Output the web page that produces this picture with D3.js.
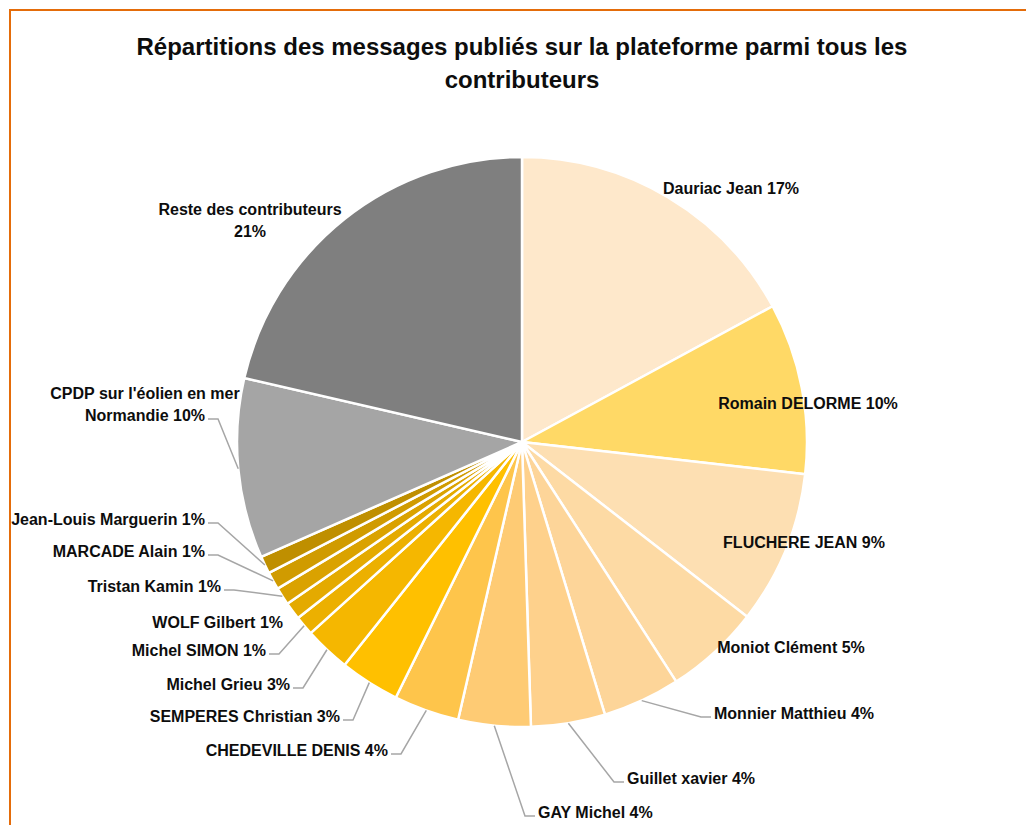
<!DOCTYPE html>
<html>
<head>
<meta charset="utf-8">
<script src="https://cdn.jsdelivr.net/npm/d3@7"></script>
<style>
  body { margin: 0; background: #fff; }
  text { font-family: "Liberation Sans", Arial, sans-serif; font-weight: bold; fill: #0d0d0d; }
</style>
</head>
<body>
<div id="chart"></div>
<script>
const titleLines = ["Répartitions des messages publiés sur la plateforme parmi tous les", "contributeurs"];

const names = [
  "Dauriac Jean", "Romain DELORME", "FLUCHERE JEAN", "Moniot Clément", "Monnier Matthieu",
  "Guillet xavier", "GAY Michel", "CHEDEVILLE DENIS", "SEMPERES Christian", "Michel Grieu",
  "Michel SIMON", "WOLF Gilbert", "Tristan Kamin", "MARCADE Alain", "Jean-Louis Marguerin",
  "CPDP sur l'éolien en mer Normandie", "Reste des contributeurs"
];
const values = [17.1, 9.7, 8.7, 5.4, 4.4, 4.2, 4.1, 3.7, 3.4, 2.6, 1.1, 1.0, 1.0, 1.0, 1.0, 10.2, 21.4];
const colors = [
  "#fee8cb", "#ffd966", "#fddfb2", "#fddaa4", "#fdd599",
  "#fed18c", "#fecb74", "#fec54b", "#ffc000", "#f5b700",
  "#ecb000", "#e4aa00", "#daa200", "#d09b00", "#bf8f00",
  "#a5a5a5", "#7f7f7f"
];

const width = 1026, height = 825;
const cx = 522, cy = 442, radius = 285;

// label placement: [x, y, anchor, leader]
const labelSpots = [
  [731, 188, "middle", false], [808, 403, "middle", false], [804, 542, "middle", false],
  [791, 647, "middle", false], [714, 713, "start", true], [627, 778, "start", true],
  [538, 812, "start", true], [388, 750, "end", true], [340, 716, "end", true],
  [290, 684, "end", true], [266, 650, "end", true], [283, 622, "end", false],
  [221, 586, "end", true], [205, 551, "end", true], [205, 519, "end", true],
  [145, 393, "middle", true], [250, 209, "middle", false]
];
const splitLines = { 15: ["CPDP sur l'éolien en mer", "Normandie"], 16: ["Reste des contributeurs", ""] };

const svg = d3.select("#chart").append("svg")
  .attr("width", width)
  .attr("height", height);

// frame
svg.append("rect")
  .attr("x", 10).attr("y", 10)
  .attr("width", width + 20).attr("height", height + 20)
  .attr("fill", "none")
  .attr("stroke", "#e46c0a")
  .attr("stroke-width", 2);

svg.append("text")
  .attr("x", cx)
  .attr("text-anchor", "middle")
  .style("font-size", "24px")
  .selectAll("tspan")
  .data(titleLines)
  .join("tspan")
  .attr("x", cx)
  .attr("y", (d, i) => 55 + i * 33)
  .text(d => d);

const total = d3.sum(values);
const data = names.map((n, i) => ({ name: n, value: values[i], i: i }));

const pie = d3.pie().sort(null).value(d => d.value);
const arcs = pie(data);
const arc = d3.arc().innerRadius(0).outerRadius(radius);

const g = svg.append("g").attr("transform", `translate(${cx},${cy})`);

g.selectAll("path")
  .data(arcs)
  .join("path")
  .attr("d", arc)
  .attr("fill", d => colors[d.data.i])
  .attr("stroke", "#fff")
  .attr("stroke-width", 2.5)
  .attr("stroke-linejoin", "round");

const pct = v => Math.round(v / total * 100) + "%";

const labels = svg.append("g").style("font-size", "16px");

arcs.forEach(a => {
  const i = a.data.i;
  const [lx, ly, anchor, leader] = labelSpots[i];
  const t = labels.append("text")
    .attr("text-anchor", anchor)
    .attr("dominant-baseline", "central");
  let lines;
  if (splitLines[i]) {
    lines = splitLines[i].slice();
    lines[lines.length - 1] = (lines[lines.length - 1] + " " + pct(a.data.value)).trim();
  } else {
    lines = [a.data.name + " " + pct(a.data.value)];
  }
  const spans = t.selectAll("tspan").data(lines).join("tspan")
    .attr("x", lx)
    .attr("y", (d, k) => ly + k * 22)
    .text(d => d);

  if (leader) {
    const mid = (a.startAngle + a.endAngle) / 2;
    const ex = cx + radius * Math.sin(mid);
    const ey = cy - radius * Math.cos(mid);
    const lastNode = spans.nodes()[lines.length - 1];
    const w = lastNode.getComputedTextLength();
    const yy = ly + (lines.length - 1) * 22 + 4;
    let endX;
    if (anchor === "start") endX = lx - 3;
    else if (anchor === "end") endX = lx + 3;
    else endX = lx + w / 2 + 3;
    const dir = anchor === "start" ? -1 : 1;
    const elbowX = endX + dir * 10;
    labels.append("path")
      .attr("d", `M${ex},${ey}L${elbowX},${yy}L${endX},${yy}`)
      .attr("fill", "none")
      .attr("stroke", "#a6a6a6")
      .attr("stroke-width", 1.5);
  }
});
</script>
</body>
</html>
